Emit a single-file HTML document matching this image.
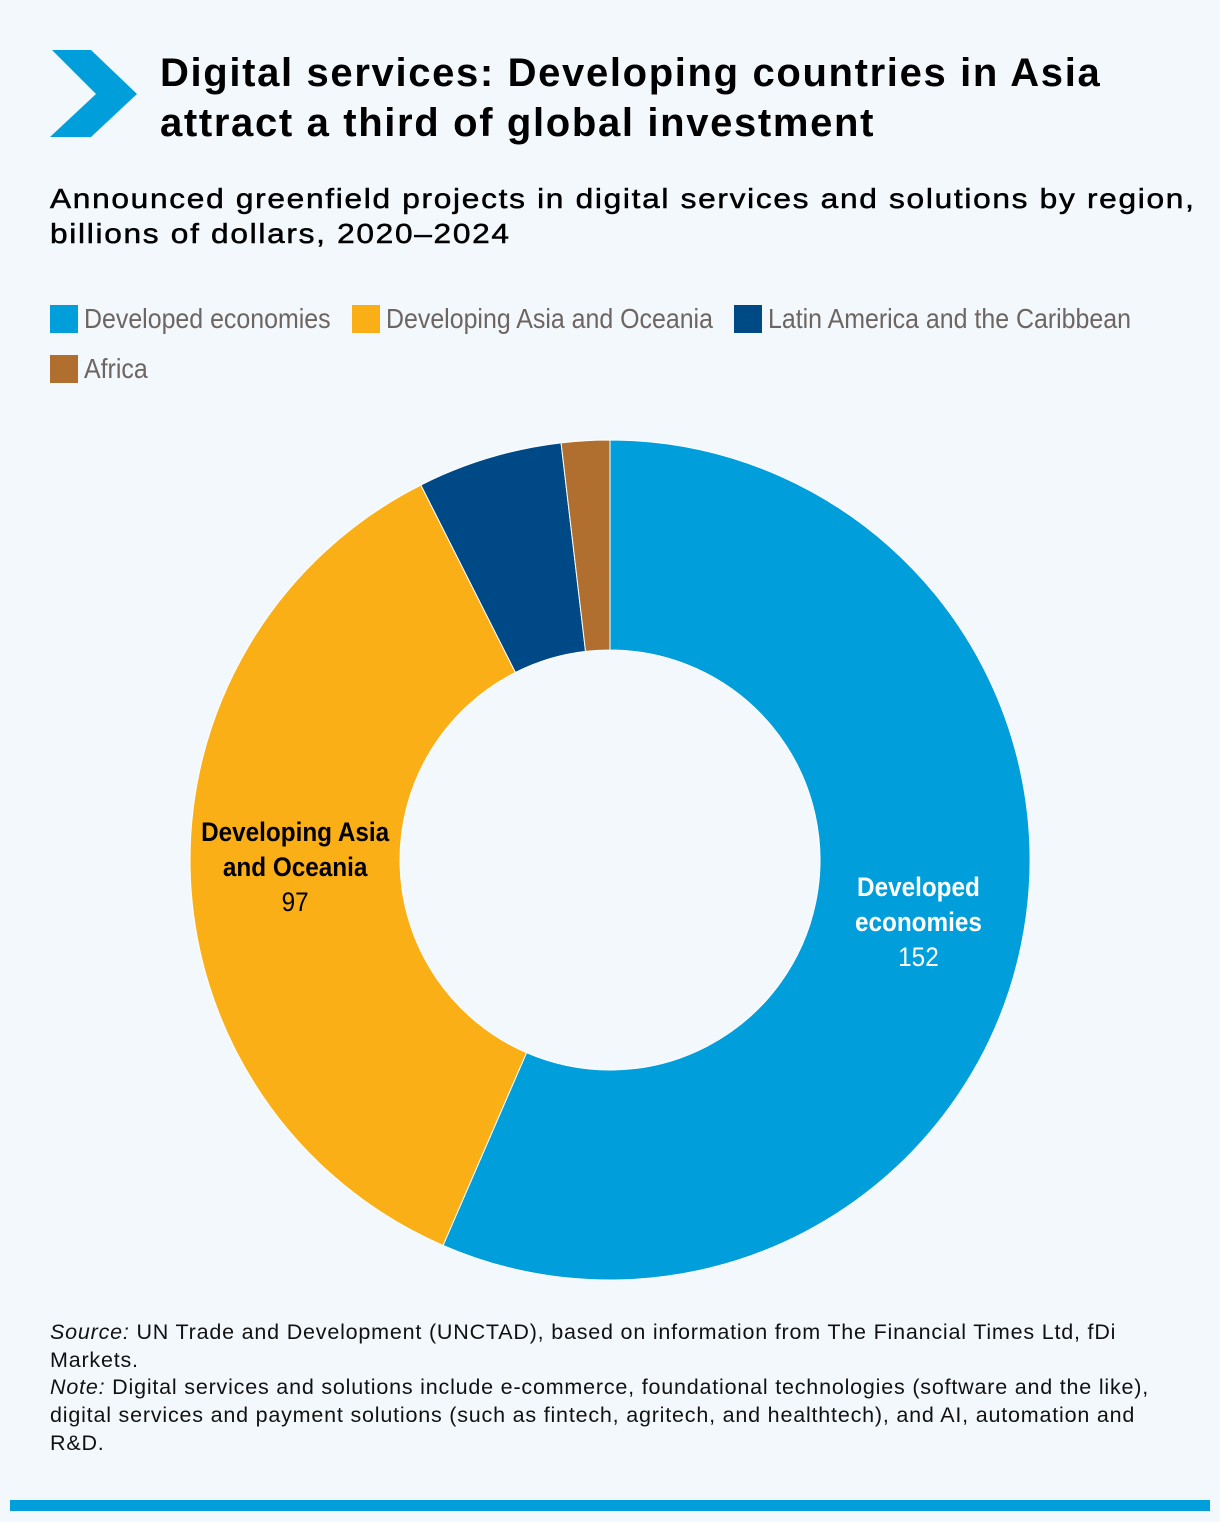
<!DOCTYPE html>
<html><head><meta charset="utf-8">
<style>
body{margin:0;background:#f3f8fc;font-family:"Liberation Sans",sans-serif;}
#page{position:relative;width:1220px;height:1522px;background:#f3f8fc;overflow:hidden}
.t{position:absolute;margin:0}
.leg{position:absolute;font-size:28px;color:#6d6562;display:flex;align-items:center;white-space:nowrap}
.leg span.tx{display:inline-block;transform:scaleX(0.89);transform-origin:left center}
.sw{width:28px;height:28px;margin-right:6px;display:inline-block}
</style></head><body>
<div id="page">
<svg class="t" style="left:0;top:0" width="150" height="150"><polygon points="52,50 91,50 137,94 91,137 50,137 96,94" fill="#009edb"/></svg>
<h1 class="t" style="left:160px;top:48px;font-size:40px;line-height:50px;font-weight:bold;letter-spacing:1.65px;color:#000;white-space:nowrap">Digital services: Developing countries in Asia<br>attract a third of global investment</h1>
<div class="t" style="left:50px;top:181px;font-size:28px;line-height:35px;letter-spacing:1.5px;-webkit-text-stroke:0.5px #000;color:#000;white-space:nowrap;transform:scaleX(1.13);transform-origin:left top">Announced greenfield projects in digital services and solutions by region,<br>billions of dollars, 2020–2024</div>
<div class="leg" style="left:50px;top:303px"><span class="sw" style="background:#009edb"></span><span class="tx">Developed economies</span></div>
<div class="leg" style="left:352px;top:303px"><span class="sw" style="background:#fbaf17"></span><span class="tx">Developing Asia and Oceania</span></div>
<div class="leg" style="left:734px;top:303px"><span class="sw" style="background:#004987"></span><span class="tx">Latin America and the Caribbean</span></div>
<div class="leg" style="left:50px;top:353px"><span class="sw" style="background:#b06f2e"></span><span class="tx">Africa</span></div>
<svg id="donut" class="t" style="left:0;top:0" width="1220" height="1300"></svg>
<div class="t" style="left:50px;top:1319px;width:1125px;font-size:21.5px;line-height:27.7px;letter-spacing:0.8px;color:#111"><i>Source:</i> UN Trade and Development (UNCTAD), based on information from The Financial Times Ltd, fDi Markets.<br><i>Note:</i> Digital services and solutions include e-commerce, foundational technologies (software and the like), digital services and payment solutions (such as fintech, agritech, and healthtech), and AI, automation and R&amp;D.</div>
<div class="t" style="left:10px;top:1500px;width:1200px;height:11px;background:#009edb"></div>
</div>
<script>
const categories=["Developed economies","Developing Asia and Oceania","Latin America and the Caribbean","Africa"];
const values=[152,97,15,5];
const colors=["#009edb","#fbaf17","#004987","#b06f2e"];
const labelLines=[["Developed","economies"],["Developing Asia","and Oceania"],[],[]];
const printed=["152","97","",""];
const svg=document.getElementById('donut');
const NS="http://www.w3.org/2000/svg";
const cx=610,cy=860,R=420,r=210;
const total=values.reduce((a,b)=>a+b,0);
function pt(a,rad){return [cx+rad*Math.sin(a),cy-rad*Math.cos(a)];}
function addText(x,y,s,col,bold,name){
 const g=document.createElementNS(NS,'g');
 g.setAttribute('transform',`translate(${x},${y}) scale(0.9,1)`);
 const t=document.createElementNS(NS,'text');
 t.setAttribute('x',0);t.setAttribute('y',0);t.setAttribute('text-anchor','middle');
 t.setAttribute('font-family','"Liberation Sans",sans-serif');
 t.setAttribute('font-size','27');if(bold)t.setAttribute('font-weight','bold');t.setAttribute('fill',col);
 t.textContent=s;
 
 
 g.appendChild(t);svg.appendChild(g);
}
let acc=0;
values.forEach((v,i)=>{
 const a0=acc/total*2*Math.PI; acc+=v; const a1=acc/total*2*Math.PI;
 const lg=(a1-a0)>Math.PI?1:0;
 const [x0,y0]=pt(a0,R),[x1,y1]=pt(a1,R),[x2,y2]=pt(a1,r),[x3,y3]=pt(a0,r);
 const p=document.createElementNS(NS,'path');
 p.setAttribute('d',`M${x0},${y0}A${R},${R} 0 ${lg} 1 ${x1},${y1}L${x2},${y2}A${r},${r} 0 ${lg} 0 ${x3},${y3}Z`);
 p.setAttribute('fill',colors[i]);p.setAttribute('stroke','#fff');p.setAttribute('stroke-width','1');
 
 
 svg.appendChild(p);
 if(labelLines[i].length){
  const am=(a0+a1)/2;const [lx,ly]=pt(am,(R+r)/2);
  const col=i==0?"#fff":"#000";
  const lines=labelLines[i];
  const y0l=ly-lines.length*24/2-4;
  lines.forEach((s,k)=>addText(lx,y0l+k*35,s,col,true,'slice-label-'+i));
  addText(lx,y0l+lines.length*35,printed[i],col,false,'slice-value-'+i);
 }
});
</script>
</body></html>
